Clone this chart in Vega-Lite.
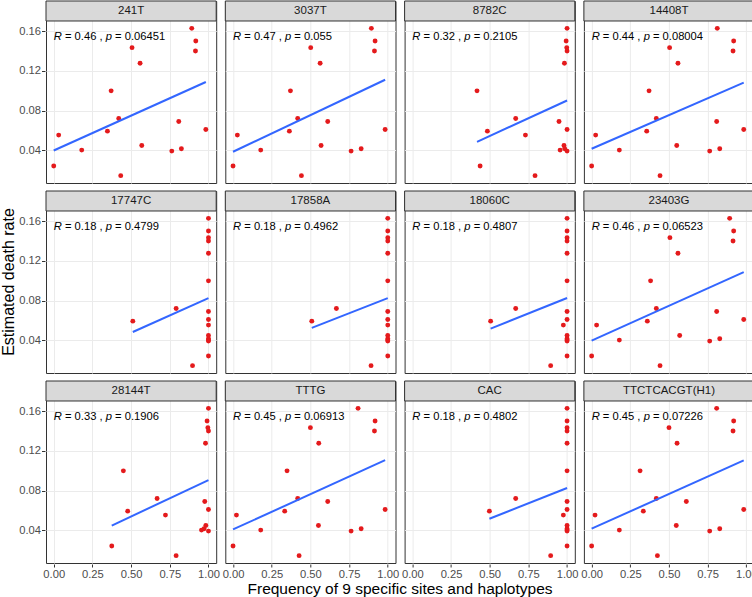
{
"$schema": "https://vega.github.io/schema/vega-lite/v6.json",
"padding": {"left": 0, "top": 0, "right": 0, "bottom": 0},
"background": "white",
"data": {"values": [
{"p":"241T","r":1,"c":1,"x":0.892,"y":0.1631},{"p":"241T","r":1,"c":1,"x":0.918,"y":0.1503},{"p":"241T","r":1,"c":1,"x":0.506,"y":0.1436},{"p":"241T","r":1,"c":1,"x":0.916,"y":0.1402},{"p":"241T","r":1,"c":1,"x":0.558,"y":0.1278},{"p":"241T","r":1,"c":1,"x":0.371,"y":0.0999},{"p":"241T","r":1,"c":1,"x":0.42,"y":0.072},{"p":"241T","r":1,"c":1,"x":0.808,"y":0.0689},{"p":"241T","r":1,"c":1,"x":0.983,"y":0.0609},{"p":"241T","r":1,"c":1,"x":0.347,"y":0.0592},{"p":"241T","r":1,"c":1,"x":0.032,"y":0.0552},{"p":"241T","r":1,"c":1,"x":0.569,"y":0.0447},{"p":"241T","r":1,"c":1,"x":0.825,"y":0.0414},{"p":"241T","r":1,"c":1,"x":0.181,"y":0.04},{"p":"241T","r":1,"c":1,"x":0.763,"y":0.039},{"p":"241T","r":1,"c":1,"x":0.0,"y":0.0239},{"p":"241T","r":1,"c":1,"x":0.433,"y":0.0142},
{"p":"3037T","r":1,"c":2,"x":0.894,"y":0.1631},{"p":"3037T","r":1,"c":2,"x":0.918,"y":0.1503},{"p":"3037T","r":1,"c":2,"x":0.502,"y":0.1436},{"p":"3037T","r":1,"c":2,"x":0.914,"y":0.1402},{"p":"3037T","r":1,"c":2,"x":0.563,"y":0.1278},{"p":"3037T","r":1,"c":2,"x":0.371,"y":0.0999},{"p":"3037T","r":1,"c":2,"x":0.418,"y":0.072},{"p":"3037T","r":1,"c":2,"x":0.612,"y":0.0689},{"p":"3037T","r":1,"c":2,"x":0.983,"y":0.0609},{"p":"3037T","r":1,"c":2,"x":0.364,"y":0.0592},{"p":"3037T","r":1,"c":2,"x":0.028,"y":0.0552},{"p":"3037T","r":1,"c":2,"x":0.569,"y":0.0447},{"p":"3037T","r":1,"c":2,"x":0.828,"y":0.0414},{"p":"3037T","r":1,"c":2,"x":0.179,"y":0.04},{"p":"3037T","r":1,"c":2,"x":0.763,"y":0.039},{"p":"3037T","r":1,"c":2,"x":0.0,"y":0.0239},{"p":"3037T","r":1,"c":2,"x":0.442,"y":0.0142},
{"p":"8782C","r":1,"c":3,"x":1.0,"y":0.1631},{"p":"8782C","r":1,"c":3,"x":0.994,"y":0.1503},{"p":"8782C","r":1,"c":3,"x":0.998,"y":0.1436},{"p":"8782C","r":1,"c":3,"x":1.0,"y":0.1402},{"p":"8782C","r":1,"c":3,"x":0.983,"y":0.1278},{"p":"8782C","r":1,"c":3,"x":0.418,"y":0.0999},{"p":"8782C","r":1,"c":3,"x":0.668,"y":0.072},{"p":"8782C","r":1,"c":3,"x":0.948,"y":0.0689},{"p":"8782C","r":1,"c":3,"x":1.0,"y":0.0609},{"p":"8782C","r":1,"c":3,"x":0.485,"y":0.0592},{"p":"8782C","r":1,"c":3,"x":0.731,"y":0.0552},{"p":"8782C","r":1,"c":3,"x":0.98,"y":0.0447},{"p":"8782C","r":1,"c":3,"x":0.985,"y":0.0414},{"p":"8782C","r":1,"c":3,"x":0.955,"y":0.04},{"p":"8782C","r":1,"c":3,"x":1.0,"y":0.039},{"p":"8782C","r":1,"c":3,"x":0.438,"y":0.0239},{"p":"8782C","r":1,"c":3,"x":0.793,"y":0.0142},
{"p":"14408T","r":1,"c":4,"x":0.812,"y":0.1631},{"p":"14408T","r":1,"c":4,"x":0.918,"y":0.1503},{"p":"14408T","r":1,"c":4,"x":0.504,"y":0.1436},{"p":"14408T","r":1,"c":4,"x":0.914,"y":0.1402},{"p":"14408T","r":1,"c":4,"x":0.558,"y":0.1278},{"p":"14408T","r":1,"c":4,"x":0.371,"y":0.0999},{"p":"14408T","r":1,"c":4,"x":0.418,"y":0.072},{"p":"14408T","r":1,"c":4,"x":0.808,"y":0.0689},{"p":"14408T","r":1,"c":4,"x":0.983,"y":0.0609},{"p":"14408T","r":1,"c":4,"x":0.356,"y":0.0592},{"p":"14408T","r":1,"c":4,"x":0.026,"y":0.0552},{"p":"14408T","r":1,"c":4,"x":0.55,"y":0.0447},{"p":"14408T","r":1,"c":4,"x":0.828,"y":0.0414},{"p":"14408T","r":1,"c":4,"x":0.179,"y":0.04},{"p":"14408T","r":1,"c":4,"x":0.763,"y":0.039},{"p":"14408T","r":1,"c":4,"x":0.0,"y":0.0239},{"p":"14408T","r":1,"c":4,"x":0.442,"y":0.0142},
{"p":"17747C","r":2,"c":1,"x":1.0,"y":0.1631},{"p":"17747C","r":2,"c":1,"x":1.0,"y":0.1503},{"p":"17747C","r":2,"c":1,"x":1.0,"y":0.1436},{"p":"17747C","r":2,"c":1,"x":1.0,"y":0.1402},{"p":"17747C","r":2,"c":1,"x":1.0,"y":0.1278},{"p":"17747C","r":2,"c":1,"x":1.0,"y":0.0999},{"p":"17747C","r":2,"c":1,"x":0.791,"y":0.072},{"p":"17747C","r":2,"c":1,"x":1.0,"y":0.0689},{"p":"17747C","r":2,"c":1,"x":1.0,"y":0.0609},{"p":"17747C","r":2,"c":1,"x":0.511,"y":0.0592},{"p":"17747C","r":2,"c":1,"x":1.0,"y":0.0552},{"p":"17747C","r":2,"c":1,"x":1.0,"y":0.0447},{"p":"17747C","r":2,"c":1,"x":1.0,"y":0.0414},{"p":"17747C","r":2,"c":1,"x":1.0,"y":0.04},{"p":"17747C","r":2,"c":1,"x":1.0,"y":0.039},{"p":"17747C","r":2,"c":1,"x":1.0,"y":0.0239},{"p":"17747C","r":2,"c":1,"x":0.897,"y":0.0142},
{"p":"17858A","r":2,"c":2,"x":1.0,"y":0.1631},{"p":"17858A","r":2,"c":2,"x":1.0,"y":0.1503},{"p":"17858A","r":2,"c":2,"x":1.0,"y":0.1436},{"p":"17858A","r":2,"c":2,"x":1.0,"y":0.1402},{"p":"17858A","r":2,"c":2,"x":1.0,"y":0.1278},{"p":"17858A","r":2,"c":2,"x":1.0,"y":0.0999},{"p":"17858A","r":2,"c":2,"x":0.668,"y":0.072},{"p":"17858A","r":2,"c":2,"x":1.0,"y":0.0689},{"p":"17858A","r":2,"c":2,"x":1.0,"y":0.0609},{"p":"17858A","r":2,"c":2,"x":0.509,"y":0.0592},{"p":"17858A","r":2,"c":2,"x":1.0,"y":0.0552},{"p":"17858A","r":2,"c":2,"x":1.0,"y":0.0447},{"p":"17858A","r":2,"c":2,"x":1.0,"y":0.0414},{"p":"17858A","r":2,"c":2,"x":1.0,"y":0.04},{"p":"17858A","r":2,"c":2,"x":1.0,"y":0.039},{"p":"17858A","r":2,"c":2,"x":1.0,"y":0.0239},{"p":"17858A","r":2,"c":2,"x":0.892,"y":0.0142},
{"p":"18060C","r":2,"c":3,"x":1.0,"y":0.1631},{"p":"18060C","r":2,"c":3,"x":1.0,"y":0.1503},{"p":"18060C","r":2,"c":3,"x":1.0,"y":0.1436},{"p":"18060C","r":2,"c":3,"x":1.0,"y":0.1402},{"p":"18060C","r":2,"c":3,"x":1.0,"y":0.1278},{"p":"18060C","r":2,"c":3,"x":1.0,"y":0.0999},{"p":"18060C","r":2,"c":3,"x":0.668,"y":0.072},{"p":"18060C","r":2,"c":3,"x":1.0,"y":0.0689},{"p":"18060C","r":2,"c":3,"x":1.0,"y":0.0609},{"p":"18060C","r":2,"c":3,"x":0.506,"y":0.0592},{"p":"18060C","r":2,"c":3,"x":0.976,"y":0.0552},{"p":"18060C","r":2,"c":3,"x":1.0,"y":0.0447},{"p":"18060C","r":2,"c":3,"x":1.0,"y":0.0414},{"p":"18060C","r":2,"c":3,"x":1.0,"y":0.04},{"p":"18060C","r":2,"c":3,"x":1.0,"y":0.039},{"p":"18060C","r":2,"c":3,"x":1.0,"y":0.0239},{"p":"18060C","r":2,"c":3,"x":0.894,"y":0.0142},
{"p":"23403G","r":2,"c":4,"x":0.892,"y":0.1631},{"p":"23403G","r":2,"c":4,"x":0.918,"y":0.1503},{"p":"23403G","r":2,"c":4,"x":0.506,"y":0.1436},{"p":"23403G","r":2,"c":4,"x":0.914,"y":0.1402},{"p":"23403G","r":2,"c":4,"x":0.558,"y":0.1278},{"p":"23403G","r":2,"c":4,"x":0.381,"y":0.0999},{"p":"23403G","r":2,"c":4,"x":0.418,"y":0.072},{"p":"23403G","r":2,"c":4,"x":0.808,"y":0.0689},{"p":"23403G","r":2,"c":4,"x":0.983,"y":0.0609},{"p":"23403G","r":2,"c":4,"x":0.36,"y":0.0592},{"p":"23403G","r":2,"c":4,"x":0.032,"y":0.0552},{"p":"23403G","r":2,"c":4,"x":0.569,"y":0.0447},{"p":"23403G","r":2,"c":4,"x":0.828,"y":0.0414},{"p":"23403G","r":2,"c":4,"x":0.179,"y":0.04},{"p":"23403G","r":2,"c":4,"x":0.763,"y":0.039},{"p":"23403G","r":2,"c":4,"x":0.0,"y":0.0239},{"p":"23403G","r":2,"c":4,"x":0.442,"y":0.0142},
{"p":"28144T","r":3,"c":1,"x":1.0,"y":0.1631},{"p":"28144T","r":3,"c":1,"x":0.991,"y":0.1503},{"p":"28144T","r":3,"c":1,"x":0.996,"y":0.1436},{"p":"28144T","r":3,"c":1,"x":1.0,"y":0.1402},{"p":"28144T","r":3,"c":1,"x":0.981,"y":0.1278},{"p":"28144T","r":3,"c":1,"x":0.45,"y":0.0999},{"p":"28144T","r":3,"c":1,"x":0.668,"y":0.072},{"p":"28144T","r":3,"c":1,"x":0.976,"y":0.0689},{"p":"28144T","r":3,"c":1,"x":1.0,"y":0.0609},{"p":"28144T","r":3,"c":1,"x":0.478,"y":0.0592},{"p":"28144T","r":3,"c":1,"x":0.722,"y":0.0552},{"p":"28144T","r":3,"c":1,"x":0.983,"y":0.0447},{"p":"28144T","r":3,"c":1,"x":0.972,"y":0.0414},{"p":"28144T","r":3,"c":1,"x":0.955,"y":0.04},{"p":"28144T","r":3,"c":1,"x":1.0,"y":0.039},{"p":"28144T","r":3,"c":1,"x":0.375,"y":0.0239},{"p":"28144T","r":3,"c":1,"x":0.791,"y":0.0142},
{"p":"TTTG","r":3,"c":2,"x":0.808,"y":0.1631},{"p":"TTTG","r":3,"c":2,"x":0.918,"y":0.1503},{"p":"TTTG","r":3,"c":2,"x":0.5,"y":0.1436},{"p":"TTTG","r":3,"c":2,"x":0.914,"y":0.1402},{"p":"TTTG","r":3,"c":2,"x":0.554,"y":0.1278},{"p":"TTTG","r":3,"c":2,"x":0.349,"y":0.0999},{"p":"TTTG","r":3,"c":2,"x":0.418,"y":0.072},{"p":"TTTG","r":3,"c":2,"x":0.612,"y":0.0689},{"p":"TTTG","r":3,"c":2,"x":0.983,"y":0.0609},{"p":"TTTG","r":3,"c":2,"x":0.334,"y":0.0592},{"p":"TTTG","r":3,"c":2,"x":0.022,"y":0.0552},{"p":"TTTG","r":3,"c":2,"x":0.552,"y":0.0447},{"p":"TTTG","r":3,"c":2,"x":0.828,"y":0.0414},{"p":"TTTG","r":3,"c":2,"x":0.179,"y":0.04},{"p":"TTTG","r":3,"c":2,"x":0.763,"y":0.039},{"p":"TTTG","r":3,"c":2,"x":0.0,"y":0.0239},{"p":"TTTG","r":3,"c":2,"x":0.427,"y":0.0142},
{"p":"CAC","r":3,"c":3,"x":1.0,"y":0.1631},{"p":"CAC","r":3,"c":3,"x":1.0,"y":0.1503},{"p":"CAC","r":3,"c":3,"x":1.0,"y":0.1436},{"p":"CAC","r":3,"c":3,"x":1.0,"y":0.1402},{"p":"CAC","r":3,"c":3,"x":1.0,"y":0.1278},{"p":"CAC","r":3,"c":3,"x":1.0,"y":0.0999},{"p":"CAC","r":3,"c":3,"x":0.668,"y":0.072},{"p":"CAC","r":3,"c":3,"x":1.0,"y":0.0689},{"p":"CAC","r":3,"c":3,"x":1.0,"y":0.0609},{"p":"CAC","r":3,"c":3,"x":0.498,"y":0.0592},{"p":"CAC","r":3,"c":3,"x":0.976,"y":0.0552},{"p":"CAC","r":3,"c":3,"x":1.0,"y":0.0447},{"p":"CAC","r":3,"c":3,"x":1.0,"y":0.0414},{"p":"CAC","r":3,"c":3,"x":1.0,"y":0.04},{"p":"CAC","r":3,"c":3,"x":1.0,"y":0.039},{"p":"CAC","r":3,"c":3,"x":1.0,"y":0.0239},{"p":"CAC","r":3,"c":3,"x":0.894,"y":0.0142},
{"p":"TTCTCACGT(H1)","r":3,"c":4,"x":0.808,"y":0.1631},{"p":"TTCTCACGT(H1)","r":3,"c":4,"x":0.918,"y":0.1503},{"p":"TTCTCACGT(H1)","r":3,"c":4,"x":0.5,"y":0.1436},{"p":"TTCTCACGT(H1)","r":3,"c":4,"x":0.914,"y":0.1402},{"p":"TTCTCACGT(H1)","r":3,"c":4,"x":0.552,"y":0.1278},{"p":"TTCTCACGT(H1)","r":3,"c":4,"x":0.313,"y":0.0999},{"p":"TTCTCACGT(H1)","r":3,"c":4,"x":0.418,"y":0.072},{"p":"TTCTCACGT(H1)","r":3,"c":4,"x":0.612,"y":0.0689},{"p":"TTCTCACGT(H1)","r":3,"c":4,"x":0.983,"y":0.0609},{"p":"TTCTCACGT(H1)","r":3,"c":4,"x":0.334,"y":0.0592},{"p":"TTCTCACGT(H1)","r":3,"c":4,"x":0.022,"y":0.0552},{"p":"TTCTCACGT(H1)","r":3,"c":4,"x":0.547,"y":0.0447},{"p":"TTCTCACGT(H1)","r":3,"c":4,"x":0.828,"y":0.0414},{"p":"TTCTCACGT(H1)","r":3,"c":4,"x":0.179,"y":0.04},{"p":"TTCTCACGT(H1)","r":3,"c":4,"x":0.763,"y":0.039},{"p":"TTCTCACGT(H1)","r":3,"c":4,"x":0.0,"y":0.0239},{"p":"TTCTCACGT(H1)","r":3,"c":4,"x":0.425,"y":0.0142},
{"p":"241T","r":1,"c":1,"rl":"= 0.46 ,","pl":"= 0.06451"},
{"p":"3037T","r":1,"c":2,"rl":"= 0.47 ,","pl":"= 0.055"},
{"p":"8782C","r":1,"c":3,"rl":"= 0.32 ,","pl":"= 0.2105"},
{"p":"14408T","r":1,"c":4,"rl":"= 0.44 ,","pl":"= 0.08004"},
{"p":"17747C","r":2,"c":1,"rl":"= 0.18 ,","pl":"= 0.4799"},
{"p":"17858A","r":2,"c":2,"rl":"= 0.18 ,","pl":"= 0.4962"},
{"p":"18060C","r":2,"c":3,"rl":"= 0.18 ,","pl":"= 0.4807"},
{"p":"23403G","r":2,"c":4,"rl":"= 0.46 ,","pl":"= 0.06523"},
{"p":"28144T","r":3,"c":1,"rl":"= 0.33 ,","pl":"= 0.1906"},
{"p":"TTTG","r":3,"c":2,"rl":"= 0.45 ,","pl":"= 0.06913"},
{"p":"CAC","r":3,"c":3,"rl":"= 0.18 ,","pl":"= 0.4802"},
{"p":"TTCTCACGT(H1)","r":3,"c":4,"rl":"= 0.45 ,","pl":"= 0.07226"}
]},
"facet": {
  "row": {"field": "r", "type": "ordinal", "title": "Estimated death rate",
    "header": {"labels": false, "titleFont": "Liberation Sans", "titleFontSize": 16, "titleFontWeight": "normal", "titleColor": "black", "titlePadding": -9}},
  "column": {"field": "c", "type": "ordinal", "title": "Frequency of 9 specific sites and haplotypes",
    "header": {"labels": false, "titleOrient": "bottom", "titleFont": "Liberation Sans", "titleFontSize": 15.5, "titleFontWeight": "normal", "titleColor": "black", "titlePadding": -8}}
},
"spacing": {"row": 6.0, "column": 6.3},
"spec": {
  "width": 170.2,
  "height": 182,
  "layer": [
    {
      "transform": [{"filter": "isValid(datum.y)"}],
      "mark": {"type": "circle", "size": 24, "color": "#E41A1C", "opacity": 1},
      "encoding": {
        "x": {"field": "x", "type": "quantitative",
          "scale": {"domain": [-0.05, 1.05], "nice": false, "zero": false},
          "axis": {"title": null, "values": [0, 0.125, 0.25, 0.375, 0.5, 0.625, 0.75, 0.875, 1],
            "labelExpr": "round(datum.value*1000)%250==0 ? format(datum.value,'.2f') : ''",
            "tickOpacity": {"condition": {"test": "round(datum.value*1000)%250!=0", "value": 0}, "value": 1},
            "gridWidth": {"condition": {"test": "round(datum.value*1000)%250!=0", "value": 0.5}, "value": 1},
            "labelFlush": false, "labelOverlap": false, "labelBound": false, "tickSize": 3, "labelPadding": 1}},
        "y": {"field": "y", "type": "quantitative",
          "scale": {"domain": [0.00675, 0.19077], "nice": false, "zero": false},
          "axis": {"title": null, "values": [0.04, 0.08, 0.12, 0.16], "format": ".2f", "labelOverlap": false, "labelFlush": false, "tickSize": 3.5, "labelPadding": 1}}
      }
    },
    {
      "transform": [{"filter": "isValid(datum.y)"}, {"regression": "y", "on": "x", "groupby": ["p", "r", "c"]}],
      "mark": {"type": "line", "color": "#3366FF", "strokeWidth": 2},
      "encoding": {"x": {"field": "x", "type": "quantitative"}, "y": {"field": "y", "type": "quantitative"}}
    },
    {
      "transform": [{"filter": "isValid(datum.rl)"}],
      "mark": {"type": "rect", "fill": "#D9D9D9", "stroke": "#333333", "strokeWidth": 1},
      "encoding": {"x": {"datum": -0.05}, "x2": {"datum": 1.05}, "y": {"datum": 0.17055}, "y2": {"datum": 0.19077}}
    },
    {
      "transform": [{"filter": "isValid(datum.rl)"}],
      "mark": {"type": "text", "font": "Liberation Sans", "fontSize": 11.5, "color": "#1A1A1A", "align": "center", "baseline": "middle"},
      "encoding": {"x": {"datum": 0.5}, "y": {"datum": 0.18066}, "text": {"field": "p"}}
    },
    {
      "transform": [{"filter": "isValid(datum.rl)"}],
      "mark": {"type": "text", "font": "Liberation Sans", "fontSize": 11.2, "fontStyle": "italic", "color": "black", "align": "left", "baseline": "middle"},
      "encoding": {"x": {"datum": 0}, "y": {"datum": 0.1545}, "text": {"value": "R"}}
    },
    {
      "transform": [{"filter": "isValid(datum.rl)"}],
      "mark": {"type": "text", "font": "Liberation Sans", "fontSize": 11.2, "color": "black", "align": "left", "baseline": "middle", "dx": 11.2},
      "encoding": {"x": {"datum": 0}, "y": {"datum": 0.1545}, "text": {"field": "rl"}}
    },
    {
      "transform": [{"filter": "isValid(datum.rl)"}],
      "mark": {"type": "text", "font": "Liberation Sans", "fontSize": 11.2, "fontStyle": "italic", "color": "black", "align": "left", "baseline": "middle", "dx": 52.0},
      "encoding": {"x": {"datum": 0}, "y": {"datum": 0.1545}, "text": {"value": "p"}}
    },
    {
      "transform": [{"filter": "isValid(datum.rl)"}],
      "mark": {"type": "text", "font": "Liberation Sans", "fontSize": 11.2, "color": "black", "align": "left", "baseline": "middle", "dx": 61.3},
      "encoding": {"x": {"datum": 0}, "y": {"datum": 0.1545}, "text": {"field": "pl"}}
    }
  ]
},
"config": {
  "font": "Liberation Sans",
  "view": {"stroke": "#333333", "strokeWidth": 1, "fill": "white"},
  "axis": {"domain": false, "labelFont": "Liberation Sans", "labelFontSize": 11.2, "labelColor": "#4D4D4D",
    "tickColor": "#333333", "tickSize": 4, "tickWidth": 1, "labelPadding": 1.5, "gridColor": "#EBEBEB"}
}
}
